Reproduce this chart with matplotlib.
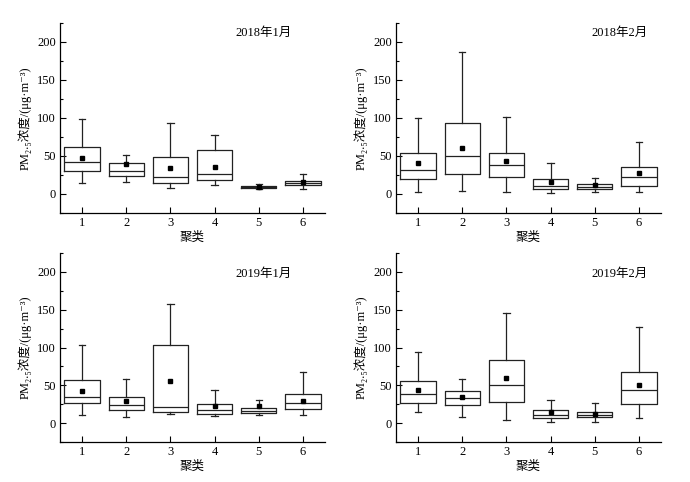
import numpy as np
import matplotlib
matplotlib.use("Agg")
import matplotlib.pyplot as plt
from matplotlib.ticker import MultipleLocator

plt.rcParams['font.family'] = ['Liberation Serif', 'Noto Sans CJK SC', 'DejaVu Serif']
plt.rcParams['font.size'] = 8

clusters = [1, 2, 3, 4, 5, 6]
titles = ['2018年1月', '2018年2月', '2019年1月', '2019年2月']

# per panel: whisker low, q1, median, q3, whisker high, mean
whislo = [[15, 16, 8, 12, 7, 7],
          [2, 4, 3, 1, 2, 2],
          [11, 8, 12, 10, 10.5, 11],
          [15, 8, 4, 1, 2, 7]]
q1 = [[30, 24, 14, 18, 8, 11.5],
      [20, 26, 22, 6, 6, 10],
      [26, 17.5, 14.5, 12, 13, 18],
      [27, 24, 28, 7, 7.5, 25]]
med = [[42, 30, 22, 26, 9, 14],
       [31, 50, 38, 10.5, 9, 22],
       [34.5, 24, 21.5, 17, 16, 26],
       [38, 33, 50, 11, 11, 44]]
q3 = [[62, 41, 49, 58, 10.5, 17],
      [54, 93, 54, 20, 13, 35],
      [57.5, 34, 103, 25, 20, 39],
      [56, 42, 84, 17, 14.5, 67]]
whishi = [[99, 51, 94, 78, 13, 26],
          [100, 187, 101, 41, 21, 68],
          [103, 58, 158, 44, 30, 68],
          [94, 58, 146, 31, 27, 127]]
means = [[47, 39, 34, 35, 9.5, 16],
         [41, 61, 44, 16, 11.5, 27],
         [43, 29, 56, 23, 22, 29],
         [43.5, 34.5, 59, 15, 12.5, 51]]

title_pos = [(0.77, 0.95), (0.845, 0.95), (0.77, 0.89), (0.845, 0.89)]

fig = plt.figure(figsize=(6.9, 4.82), dpi=100)
W, H = 690, 482
rects = [(60, 23, 325, 213), (396, 23, 661, 213),
         (60, 253, 325, 442), (396, 253, 661, 442)]

for i, (x0, y0, x1, y1) in enumerate(rects):
    ax = fig.add_axes([x0 / W, 1 - y1 / H, (x1 - x0) / W, (y1 - y0) / H])
    stats = []
    for j in range(len(clusters)):
        stats.append({'whislo': whislo[i][j], 'q1': q1[i][j], 'med': med[i][j],
                      'q3': q3[i][j], 'whishi': whishi[i][j], 'mean': means[i][j],
                      'fliers': []})
    lw = 0.9
    ax.bxp(stats, positions=clusters, widths=0.8, showmeans=True,
           capwidths=0.14,
           boxprops=dict(color='#222222', linewidth=lw),
           medianprops=dict(color='#222222', linewidth=lw),
           whiskerprops=dict(color='#222222', linewidth=lw),
           capprops=dict(color='#222222', linewidth=lw),
           meanprops=dict(marker='s', markerfacecolor='black',
                          markeredgecolor='black', markersize=3.5))
    ax.set_xlim(0.5, 6.5)
    ax.set_ylim(-25, 225)
    ax.set_xticks(clusters)
    ax.set_yticks([0, 50, 100, 150, 200])
    ax.yaxis.set_minor_locator(MultipleLocator(25))
    ax.spines['top'].set_visible(False)
    ax.spines['right'].set_visible(False)
    for s in ['left', 'bottom']:
        ax.spines[s].set_linewidth(0.9)
    ax.tick_params(which='major', direction='in', length=4, width=0.8, labelsize=9, pad=3)
    ax.tick_params(which='minor', direction='in', length=2.5, width=0.8)
    ax.set_xlabel('聚类', fontsize=9, labelpad=2)
    ax.set_ylabel('PM₂.₅浓度/(μg·m⁻³)', fontsize=9, labelpad=4)
    ax.text(title_pos[i][0], title_pos[i][1], titles[i], transform=ax.transAxes,
            ha='center', va='center', fontsize=9)

fig.savefig('out.png', dpi=100)
